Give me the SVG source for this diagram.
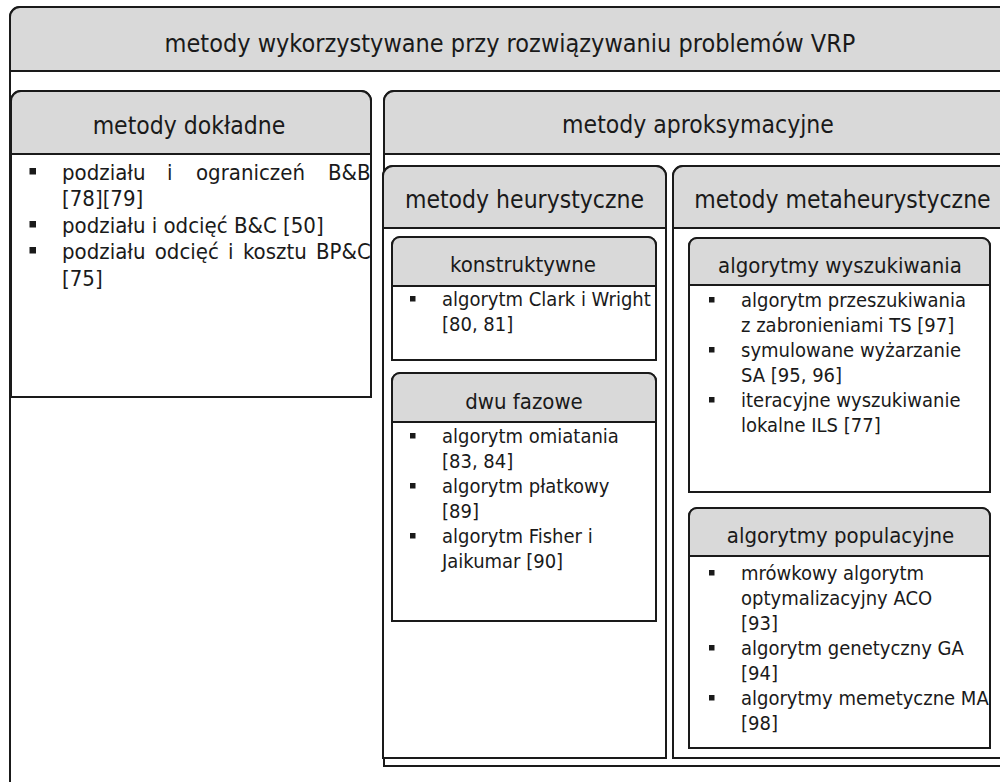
<svg xmlns="http://www.w3.org/2000/svg" width="1000" height="782" viewBox="0 0 1000 782">
<style>
.body{fill:#ffffff;stroke:#1a1a1a;stroke-width:2}
.head{fill:#d9d9d9;stroke:#1a1a1a;stroke-width:2}
text{font-family:"DejaVu Sans","Liberation Sans",sans-serif;font-stretch:condensed;fill:#1a1a1a}
.t1{font-size:25px;text-anchor:middle}
.t2{font-size:24.5px;text-anchor:middle}
.t3{font-size:22px;text-anchor:middle}
.it{font-size:20px}
.itl{font-size:22px}
.bul{fill:#1a1a1a}
</style>
<rect width="1000" height="782" fill="#ffffff"/>
<g id="connectors"></g>

<g id="root">
  <path class="body" d="M10,800 V17 A10,10 0 0 1 20,7 H1012 V800 Z"/>
  <path class="head" d="M10,71 V17 A10,10 0 0 1 20,7 H1012 V71 Z"/>
  <text class="t1" x="510" y="52">metody wykorzystywane przy rozwiązywaniu problemów VRP</text>
</g>

<g id="exact">
  <path class="body" d="M11,397 V101 A10,10 0 0 1 21,91 H361 A10,10 0 0 1 371,101 V397 Z"/>
  <path class="head" d="M11,154 V101 A10,10 0 0 1 21,91 H361 A10,10 0 0 1 371,101 V154 Z"/>
  <text class="t2" x="189" y="134">metody dokładne</text>
  <rect class="bul" x="29.5" y="168" width="6.5" height="6.5"/>
  <text class="itl" y="180"><tspan x="62">podziału</tspan><tspan x="167">i</tspan><tspan x="196">ograniczeń</tspan><tspan x="328">B&amp;B</tspan></text>
  <text class="itl" x="62" y="206">[78][79]</text>
  <rect class="bul" x="29.5" y="221" width="6.5" height="6.5"/>
  <text class="itl" x="62" y="233">podziału i odcięć B&amp;C [50]</text>
  <rect class="bul" x="29.5" y="247" width="6.5" height="6.5"/>
  <text class="itl" x="62" y="259" word-spacing="3">podziału odcięć i kosztu BP&amp;C</text>
  <text class="itl" x="62" y="286">[75]</text>
</g>

<g id="approx">
  <path class="body" d="M384,766 V101 A10,10 0 0 1 394,91 H1012 V766 Z"/>
  <path class="head" d="M384,154 V101 A10,10 0 0 1 394,91 H1012 V154 Z"/>
  <text class="t2" x="698" y="133">metody aproksymacyjne</text>
</g>

<g id="heuristic">
  <path class="body" d="M383,758 V176 A10,10 0 0 1 393,166 H656 A10,10 0 0 1 666,176 V758 Z"/>
  <path class="head" d="M383,228 V176 A10,10 0 0 1 393,166 H656 A10,10 0 0 1 666,176 V228 Z"/>
  <text class="t2" x="524.5" y="208">metody heurystyczne</text>
</g>

<g id="metaheuristic">
  <path class="body" d="M673,758 V176 A10,10 0 0 1 683,166 H1012 V758 Z"/>
  <path class="head" d="M673,228 V176 A10,10 0 0 1 683,166 H1012 V228 Z"/>
  <text class="t2" x="842.5" y="208">metody metaheurystyczne</text>
</g>

<g id="constructive">
  <path class="body" d="M392,360 V245 A8,8 0 0 1 400,237 H648 A8,8 0 0 1 656,245 V360 Z"/>
  <path class="head" d="M392,286 V245 A8,8 0 0 1 400,237 H648 A8,8 0 0 1 656,245 V286 Z"/>
  <text class="t3" x="523" y="272">konstruktywne</text>
  <rect class="bul" x="410" y="296" width="5.5" height="5.5"/>
  <text class="it" x="442" y="306">algorytm Clark i Wright</text>
  <text class="it" x="442" y="331">[80, 81]</text>
</g>

<g id="twophase">
  <path class="body" d="M392,621 V381 A8,8 0 0 1 400,373 H648 A8,8 0 0 1 656,381 V621 Z"/>
  <path class="head" d="M392,422 V381 A8,8 0 0 1 400,373 H648 A8,8 0 0 1 656,381 V422 Z"/>
  <text class="t3" x="524" y="409">dwu fazowe</text>
  <rect class="bul" x="410" y="433" width="5.5" height="5.5"/>
  <text class="it" x="442" y="443">algorytm omiatania</text>
  <text class="it" x="442" y="468">[83, 84]</text>
  <rect class="bul" x="410" y="483" width="5.5" height="5.5"/>
  <text class="it" x="442" y="493">algorytm płatkowy</text>
  <text class="it" x="442" y="518">[89]</text>
  <rect class="bul" x="410" y="533" width="5.5" height="5.5"/>
  <text class="it" x="442" y="543">algorytm Fisher i</text>
  <text class="it" x="442" y="568">Jaikumar [90]</text>
</g>

<g id="search">
  <path class="body" d="M689,492 V246 A8,8 0 0 1 697,238 H982 A8,8 0 0 1 990,246 V492 Z"/>
  <path class="head" d="M689,285 V246 A8,8 0 0 1 697,238 H982 A8,8 0 0 1 990,246 V285 Z"/>
  <text class="t3" x="840" y="273">algorytmy wyszukiwania</text>
  <rect class="bul" x="709" y="297" width="5.5" height="5.5"/>
  <text class="it" x="741" y="307">algorytm przeszukiwania</text>
  <text class="it" x="741" y="332">z zabronieniami TS [97]</text>
  <rect class="bul" x="709" y="347" width="5.5" height="5.5"/>
  <text class="it" x="741" y="357">symulowane wyżarzanie</text>
  <text class="it" x="741" y="382">SA [95, 96]</text>
  <rect class="bul" x="709" y="397" width="5.5" height="5.5"/>
  <text class="it" x="741" y="407">iteracyjne wyszukiwanie</text>
  <text class="it" x="741" y="432">lokalne ILS [77]</text>
</g>

<g id="population">
  <path class="body" d="M689,748 V516 A8,8 0 0 1 697,508 H982 A8,8 0 0 1 990,516 V748 Z"/>
  <path class="head" d="M689,556 V516 A8,8 0 0 1 697,508 H982 A8,8 0 0 1 990,516 V556 Z"/>
  <text class="t3" x="840.5" y="543">algorytmy populacyjne</text>
  <rect class="bul" x="709" y="570" width="5.5" height="5.5"/>
  <text class="it" x="741" y="580">mrówkowy algorytm</text>
  <text class="it" x="741" y="605">optymalizacyjny ACO</text>
  <text class="it" x="741" y="630">[93]</text>
  <rect class="bul" x="709" y="645" width="5.5" height="5.5"/>
  <text class="it" x="741" y="655">algorytm genetyczny GA</text>
  <text class="it" x="741" y="680">[94]</text>
  <rect class="bul" x="709" y="695" width="5.5" height="5.5"/>
  <text class="it" x="741" y="705">algorytmy memetyczne MA</text>
  <text class="it" x="741" y="730">[98]</text>
</g>
</svg>
